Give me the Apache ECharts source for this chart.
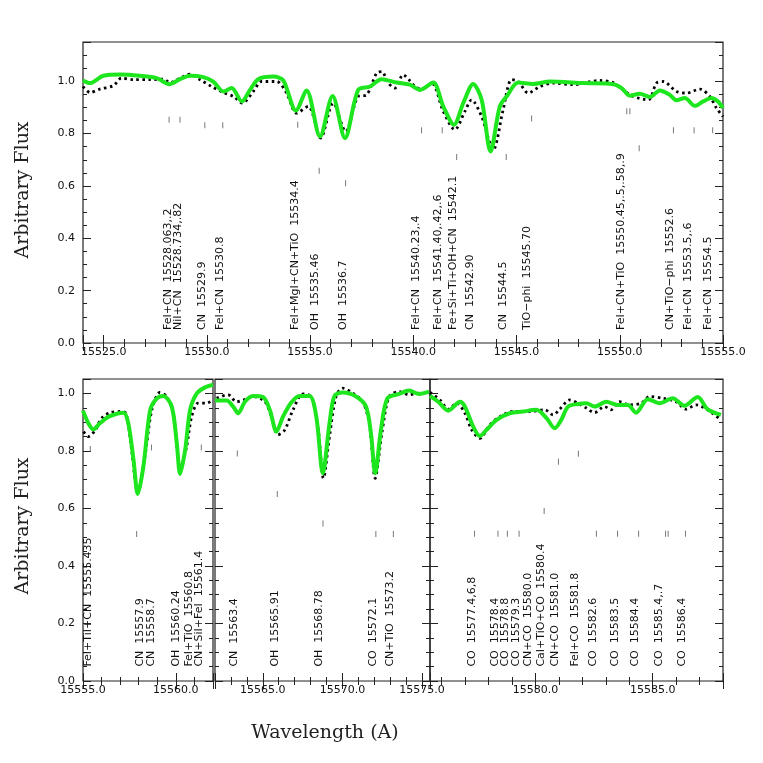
<!DOCTYPE html>
<html><head><meta charset="utf-8">
<script src="https://cdn.jsdelivr.net/npm/echarts@6/dist/echarts.min.js"></script>
<style>html,body{margin:0;padding:0;background:#fff}#c{width:763px;height:763px}</style>
</head><body><div id="c"></div>
<script>
// ---------------- DATA ----------------
// Top panel (15524 - 15555 A)
const topObsWave = [15524.0,15524.34,15524.82,15525.47,15525.87,15526.44,15527.24,15527.89,15528.21,15528.7,15529.18,15529.67,15530.23,15530.8,15531.28,15531.73,15532.25,15532.65,15533.38,15533.86,15534.35,15534.91,15535.51,15536.12,15536.72,15537.33,15537.74,15538.22,15538.47,15538.79,15539.1,15539.51,15539.8,15540.08,15540.4,15540.89,15541.45,15542.01,15542.5,15542.82,15543.31,15543.87,15544.35,15544.76,15545.08,15545.57,15546.13,15546.78,15547.74,15549.04,15549.68,15550.16,15550.65,15551.38,15551.78,15552.1,15552.75,15553.23,15553.88,15554.36,15554.68,15555.0];
const topObsFlux = [0.980,0.957,0.970,0.983,1.012,1.006,1.006,1.008,0.995,1.012,1.027,1.006,0.980,0.957,0.942,0.917,0.961,0.999,0.999,0.955,0.878,0.904,0.783,0.917,0.808,0.942,0.948,1.031,1.037,0.993,0.974,1.025,1.005,0.980,0.970,0.993,0.885,0.815,0.885,0.929,0.865,0.738,0.891,1.006,0.999,0.955,0.980,0.993,0.987,1.003,0.995,0.967,0.942,0.929,0.993,0.999,0.961,0.955,0.970,0.942,0.898,0.865];
const topModelWave = [15524.0,15524.34,15524.98,15525.8,15526.76,15527.57,15528.18,15528.7,15529.18,15529.83,15530.31,15530.8,15531.2,15531.69,15532.09,15532.49,15533.22,15533.7,15534.31,15534.83,15535.48,15536.09,15536.69,15537.33,15537.9,15538.46,15539.19,15539.83,15540.32,15540.96,15541.45,15541.97,15542.42,15542.9,15543.31,15543.74,15544.19,15544.52,15545.08,15545.81,15546.61,15548.23,15549.68,15550.09,15550.49,15550.97,15551.46,15551.94,15552.42,15552.75,15553.15,15553.64,15554.04,15554.44,15554.76,15555.0];
const topModelFlux = [1.003,0.993,1.021,1.026,1.021,1.012,0.989,1.008,1.021,1.016,0.999,0.961,0.974,0.923,0.967,1.008,1.018,1.003,0.888,0.965,0.789,0.944,0.783,0.967,0.980,1.008,0.995,0.987,0.967,0.995,0.904,0.834,0.917,0.990,0.929,0.732,0.904,0.942,0.995,0.990,0.999,0.993,0.989,0.974,0.945,0.952,0.940,0.965,0.948,0.927,0.936,0.906,0.923,0.936,0.923,0.898];
const topLineWave = [15528.13,15528.62,15529.75,15530.63,15534.27,15535.24,15536.61,15540.16,15541.21,15541.93,15542.74,15544.35,15545.49,15550.09,15552.43,15553.31,15554.28];
const topLineText = ["FeI+CN  15528.063,.2","NiI+CN  15528.734,.82","CN  15529.9","FeI+CN  15530.8","FeI+MgI+CN+TiO  15534.4","OH  15535.46","OH  15536.7","FeI+CN  15540.23,.4","FeI+CN  15541.40,.42,.6","Fe+Si+Ti+OH+CN  15542.1","CN  15542.90","CN  15544.5","TiO\u2212phi  15545.70","FeI+CN+TiO  15550.45,.5,.58,.9","CN+TiO\u2212phi  15552.6","FeI+CN  15553.5,.6","FeI+CN  15554.5"];
const topMarkWave = [15528.17,15528.7,15529.9,15530.77,15534.4,15535.44,15536.72,15540.4,15541.4,15542.1,15544.5,15545.73,15550.34,15550.49,15550.94,15552.6,15553.6,15554.5];
const topMarkFlux = [0.853,0.853,0.832,0.832,0.834,0.658,0.610,0.813,0.813,0.711,0.711,0.858,0.885,0.885,0.744,0.813,0.813,0.813];

// Bottom panel 1 (15555 - 15562 A)
const p1ObsWave = [15555.03,15555.29,15555.65,15556.0,15556.45,15556.99,15557.31,15557.62,15557.95,15558.33,15558.71,15559.14,15559.5,15559.86,15560.25,15560.58,15560.85,15561.2,15561.65,15562.0];
const p1ObsFlux = [0.867,0.850,0.871,0.914,0.933,0.937,0.931,0.803,0.653,0.780,0.943,1.003,0.989,0.931,0.740,0.815,0.919,0.966,0.966,0.977];
const p1ModelWave = [15555.0,15555.29,15555.55,15555.91,15556.38,15557.18,15557.44,15557.72,15557.95,15558.25,15558.62,15558.98,15559.33,15559.78,15560.05,15560.23,15560.5,15560.77,15561.13,15561.58,15562.0];
const p1ModelFlux = [0.940,0.896,0.875,0.896,0.919,0.933,0.896,0.769,0.650,0.745,0.943,0.983,0.991,0.954,0.827,0.720,0.803,0.943,1.000,1.021,1.030];
const p1LineWave = [15555.30,15558.05,15558.69,15560.03,15560.69,15561.28];
const p1LineText = ["FeI+TiI+CN  15555.435","CN  15557.9","CN  15558.7","OH  15560.24","FeI+TiO  15560.8","CN+SiI+FeI  15561.4"];
const p1MarkWave = [15555.39,15557.89,15558.69,15561.37];
const p1MarkFlux = [0.807,0.511,0.812,0.812];

// Bottom panel 2 (15562 - 15575.5 A)
const p2ObsWave = [15562.1,15562.83,15563.35,15563.77,15564.4,15565.13,15565.54,15565.96,15566.38,15566.9,15567.52,15568.04,15568.46,15568.81,15569.19,15569.6,15570.02,15570.65,15571.27,15571.69,15572.06,15572.48,15572.94,15573.56,15574.19,15574.81,15575.44];
const p2ObsFlux = [0.983,0.995,0.971,0.977,0.989,0.971,0.919,0.856,0.873,0.943,0.998,0.989,0.885,0.705,0.850,0.989,1.018,1.001,0.971,0.896,0.705,0.862,0.989,1.006,0.995,1.001,0.998];
const p2ModelWave = [15562.0,15562.73,15563.14,15563.46,15563.88,15564.39,15565.02,15565.44,15565.86,15566.27,15566.79,15567.31,15567.94,15568.36,15568.77,15569.19,15569.5,15570.02,15570.86,15571.48,15571.79,15572.06,15572.42,15572.83,15573.56,15574.19,15574.81,15575.44];
const p2ModelFlux = [0.975,0.975,0.954,0.931,0.971,0.991,0.987,0.943,0.867,0.919,0.968,0.991,0.991,0.919,0.722,0.896,0.991,1.003,0.989,0.954,0.862,0.722,0.873,0.983,0.998,1.010,0.998,1.006];
const p2LineWave = [15563.21,15565.75,15568.56,15571.90,15572.98];
const p2LineText = ["CN  15563.4","OH  15565.91","OH  15568.78","CO  15572.1","CN+TiO  15573.2"];
const p2MarkWave = [15563.4,15565.91,15568.78,15572.1,15573.2];
const p2MarkFlux = [0.791,0.650,0.548,0.511,0.511];

// Bottom panel 3 (15575.5 - 15588 A)
const p3ObsWave = [15575.5,15575.93,15576.28,15576.64,15576.99,15577.28,15577.63,15578.05,15578.48,15579.04,15579.76,15580.4,15580.75,15581.03,15581.46,15581.81,15582.17,15582.52,15582.94,15583.23,15583.59,15584.01,15584.51,15584.86,15585.43,15586.0,15586.42,15586.85,15587.34,15587.91];
const p3ObsFlux = [1.003,0.977,0.945,0.966,0.931,0.873,0.844,0.890,0.919,0.937,0.937,0.943,0.925,0.945,0.977,0.966,0.949,0.933,0.954,0.943,0.971,0.960,0.966,0.989,0.983,0.971,0.945,0.960,0.943,0.908];
const p3ModelWave = [15575.5,15575.85,15576.28,15576.78,15576.99,15577.34,15577.63,15577.91,15578.34,15578.9,15579.47,15580.04,15580.47,15580.82,15581.1,15581.39,15581.81,15582.17,15582.52,15583.02,15583.51,15583.94,15584.29,15584.79,15585.29,15585.85,15586.35,15586.92,15587.34,15587.91];
const p3ModelFlux = [0.991,0.971,0.940,0.971,0.954,0.885,0.852,0.873,0.908,0.931,0.937,0.943,0.914,0.879,0.908,0.954,0.963,0.966,0.954,0.971,0.960,0.960,0.933,0.980,0.966,0.983,0.957,0.987,0.945,0.925];
const p3LineWave = [15577.31,15578.30,15578.69,15579.18,15579.67,15580.24,15580.85,15581.70,15582.48,15583.40,15584.26,15585.26,15586.25];
const p3LineText = ["CO  15577.4,6,8","CO  15578.4","CO  15578.8","CO  15579.3","CN+CO  15580.0","CaI+TiO+CO  15580.4","CN+CO  15581.0","FeI+CO  15581.8","CO  15582.6","CO  15583.5","CO  15584.4","CO  15585.4,.7","CO  15586.4"];
const p3MarkWave = [15577.4,15578.4,15578.8,15579.3,15580.37,15580.98,15581.83,15582.6,15583.5,15584.4,15585.55,15585.66,15586.4];
const p3MarkFlux = [0.512,0.512,0.512,0.512,0.591,0.762,0.790,0.512,0.512,0.512,0.512,0.512,0.512];

// ---------------- LAYOUT ----------------
// major: {interval} when min is a multiple of 5, else {splitNumber} giving a nice step of 5
const panels = [
  {grid:{left:83,top:42,width:640,height:301}, xmin:15524, xmax:15555, major:{splitNumber:6}, minor:{interval:1}, ymax:1.15, yLabels:true,
   obsW:topObsWave, obsF:topObsFlux, modW:topModelWave, modF:topModelFlux, lineW:topLineWave, lineT:topLineText, markW:topMarkWave, markF:topMarkFlux},
  {grid:{left:83,top:379,width:130,height:302}, xmin:15555, xmax:15562, major:{interval:5}, minor:{interval:1}, ymax:1.05, yLabels:true,
   obsW:p1ObsWave, obsF:p1ObsFlux, modW:p1ModelWave, modF:p1ModelFlux, lineW:p1LineWave, lineT:p1LineText, markW:p1MarkWave, markF:p1MarkFlux},
  {grid:{left:215,top:379,width:215,height:302}, xmin:15562, xmax:15575.5, major:{splitNumber:3}, minor:{interval:1}, ymax:1.05, yLabels:false,
   obsW:p2ObsWave, obsF:p2ObsFlux, modW:p2ModelWave, modF:p2ModelFlux, lineW:p2LineWave, lineT:p2LineText, markW:p2MarkWave, markF:p2MarkFlux},
  {grid:{left:430,top:379,width:293,height:302}, xmin:15575.5, xmax:15588, major:{splitNumber:3}, minor:{splitNumber:12}, ymax:1.05, yLabels:false,
   obsW:p3ObsWave, obsF:p3ObsFlux, modW:p3ModelWave, modF:p3ModelFlux, lineW:p3LineWave, lineT:p3LineText, markW:p3MarkWave, markF:p3MarkFlux}
];

const AXC = '#222';
const tickFont = 'DejaVu Sans';
const grids = [], xAxes = [], yAxes = [], series = [];

function isMult(v, m){ const r = v / m; return Math.abs(r - Math.round(r)) < 1e-6; }

panels.forEach((p, gi) => {
  grids.push(Object.assign({show:true, borderColor:AXC, borderWidth:1.2, backgroundColor:'transparent', containLabel:false}, p.grid));
  const xBase = {gridIndex:gi, type:'value', min:p.xmin, max:p.xmax, scale:true, splitLine:{show:false}, axisLine:{show:false}};
  const xMajorIdx = xAxes.length;
  ['bottom','top'].forEach(pos => {
    xAxes.push(Object.assign({}, xBase, p.major, {position:pos,
      axisTick:{show:true, inside:true, length:8, lineStyle:{color:AXC, width:1}},
      axisLabel:{show:pos==='bottom', color:'#111', fontFamily:tickFont, fontSize:11, margin:4,
        showMinLabel:true, showMaxLabel:true,
        formatter:v => isMult(v,5) ? v.toFixed(1) : ''}}));
    xAxes.push(Object.assign({}, xBase, p.minor, {position:pos,
      axisTick:{show:true, inside:true, length:4, lineStyle:{color:AXC, width:1}},
      axisLabel:{show:false}}));
  });
  const yBase = {gridIndex:gi, type:'value', min:0, max:p.ymax, splitLine:{show:false}, axisLine:{show:false}};
  const yMajorIdx = yAxes.length;
  ['left','right'].forEach(pos => {
    yAxes.push(Object.assign({}, yBase, {position:pos, interval:0.2,
      axisTick:{show:true, inside:true, length:8, lineStyle:{color:AXC, width:1}},
      axisLabel:{show:(pos==='left' && p.yLabels), color:'#111', fontFamily:tickFont, fontSize:11, margin:8,
        formatter:v => isMult(v,0.2) ? v.toFixed(1) : ''}}));
    yAxes.push(Object.assign({}, yBase, {position:pos, interval:0.05,
      axisTick:{show:true, inside:true, length:4, lineStyle:{color:AXC, width:1}},
      axisLabel:{show:false}}));
  });

  series.push({type:'line', xAxisIndex:xMajorIdx, yAxisIndex:yMajorIdx, showSymbol:false, smooth:0.3, z:3,
    data:p.obsW.map((w,i)=>[w,p.obsF[i]]),
    lineStyle:{color:'#000', width:2.8, type:[2.5,3.5], cap:'butt'}});
  series.push({type:'line', xAxisIndex:xMajorIdx, yAxisIndex:yMajorIdx, showSymbol:false, smooth:0.3, z:4,
    data:p.modW.map((w,i)=>[w,p.modF[i]]),
    lineStyle:{color:'#1ee61e', width:4}});
  series.push({type:'scatter', xAxisIndex:xMajorIdx, yAxisIndex:yMajorIdx, symbol:'rect', symbolSize:[1,6], z:2,
    data:p.markW.map((w,i)=>[w,p.markF[i]]), itemStyle:{color:'#555'}, silent:true});
  const texts = p.lineT;
  series.push({type:'custom', xAxisIndex:xMajorIdx, yAxisIndex:yMajorIdx, z:5, silent:true,
    data:p.lineW.map(w=>[w,0.05]),
    renderItem:(params, api) => {
      const pt = api.coord([api.value(0), api.value(1)]);
      return {type:'text', x:pt[0], y:pt[1], rotation:Math.PI/2,
        style:{text:texts[params.dataIndex], fill:'#111', font:'11px "DejaVu Sans"', align:'left', verticalAlign:'middle'}};
    }});
});

const chart = echarts.init(document.getElementById('c'), null, {renderer:'canvas'});
chart.setOption({
  animation:false,
  backgroundColor:'#fff',
  grid:grids, xAxis:xAxes, yAxis:yAxes, series:series,
  graphic:[
    {type:'text', x:23, y:190, rotation:Math.PI/2, style:{text:'Arbitrary Flux', font:'19px "DejaVu Serif"', fill:'#222', align:'center', verticalAlign:'middle'}},
    {type:'text', x:23, y:526, rotation:Math.PI/2, style:{text:'Arbitrary Flux', font:'19px "DejaVu Serif"', fill:'#222', align:'center', verticalAlign:'middle'}},
    {type:'text', x:325, y:733, style:{text:'Wavelength (A)', font:'19px "DejaVu Serif"', fill:'#222', align:'center', verticalAlign:'middle'}}
  ]
});
</script></body></html>
